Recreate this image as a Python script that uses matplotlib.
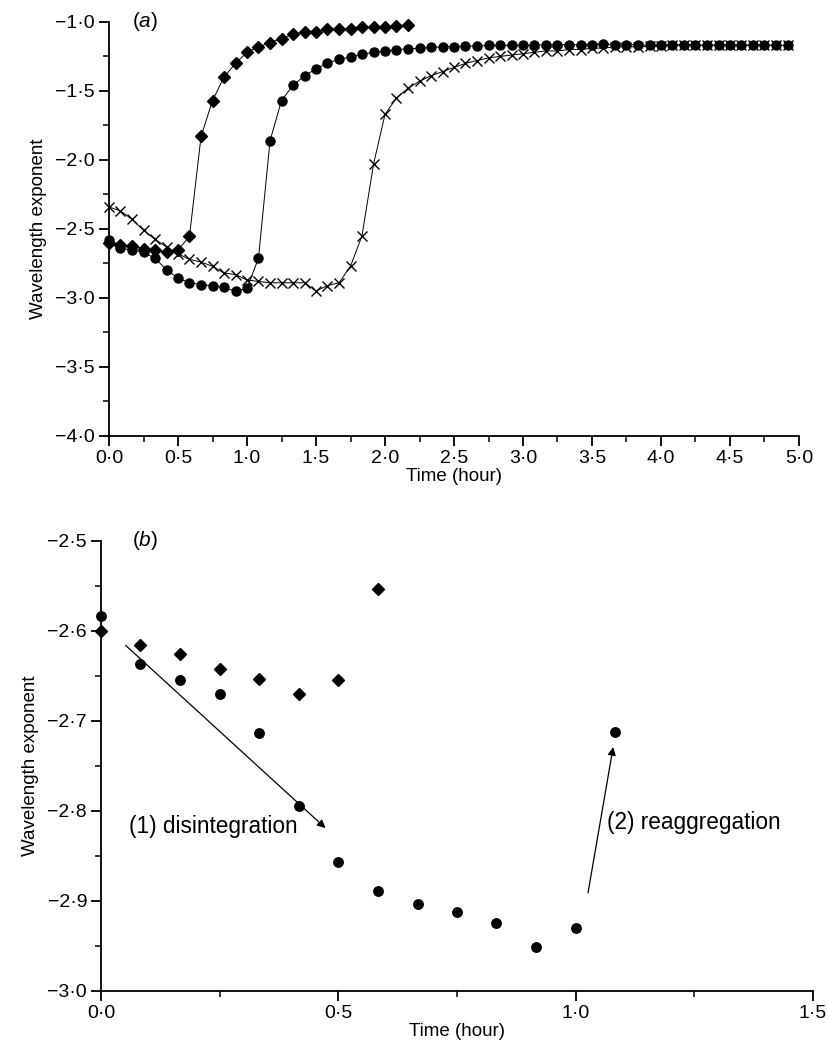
import matplotlib
matplotlib.use("Agg")
import matplotlib.pyplot as plt
from matplotlib.ticker import MultipleLocator, FuncFormatter

plt.rcParams['font.family'] = ['Liberation Sans', 'DejaVu Sans']
plt.rcParams['mathtext.fontset'] = 'custom'
plt.rcParams['mathtext.rm'] = 'Liberation Sans'
plt.rcParams['mathtext.it'] = 'Liberation Sans:italic'
plt.rcParams['font.size'] = 13

# ---- panel (a): time (hour) every 5 min ----
t_diamond = [0.0, 0.083, 0.167, 0.25, 0.333, 0.417, 0.5, 0.583, 0.667, 0.75,
             0.833, 0.917, 1.0, 1.083, 1.167, 1.25, 1.333, 1.417, 1.5, 1.583,
             1.667, 1.75, 1.833, 1.917, 2.0, 2.083, 2.167]
v_diamond = [-2.60, -2.616, -2.626, -2.642, -2.653, -2.67, -2.654, -2.553, -1.83, -1.57,
             -1.40, -1.30, -1.22, -1.18, -1.15, -1.12, -1.09, -1.07, -1.07, -1.05,
             -1.05, -1.05, -1.04, -1.04, -1.04, -1.03, -1.02]

t_circle = [0.0, 0.083, 0.167, 0.25, 0.333, 0.417, 0.5, 0.583, 0.667, 0.75,
            0.833, 0.917, 1.0, 1.083, 1.167, 1.25, 1.333, 1.417, 1.5, 1.583,
            1.667, 1.75, 1.833, 1.917, 2.0, 2.083, 2.167, 2.25, 2.333, 2.417,
            2.5, 2.583, 2.667, 2.75, 2.833, 2.917, 3.0, 3.083, 3.167, 3.25,
            3.333, 3.417, 3.5, 3.583, 3.667, 3.75, 3.833, 3.917, 4.0, 4.083,
            4.167, 4.25, 4.333, 4.417, 4.5, 4.583, 4.667, 4.75, 4.833, 4.917]
v_circle = [-2.583, -2.637, -2.655, -2.67, -2.713, -2.795, -2.857, -2.889, -2.903, -2.912,
            -2.924, -2.951, -2.93, -2.712, -1.86, -1.57, -1.46, -1.39, -1.34, -1.30,
            -1.27, -1.255, -1.234, -1.22, -1.21, -1.20, -1.195, -1.19, -1.185, -1.18,
            -1.18, -1.175, -1.175, -1.17, -1.17, -1.17, -1.17, -1.17, -1.165, -1.165,
            -1.165, -1.165, -1.165, -1.16, -1.165, -1.165, -1.165, -1.17, -1.165, -1.165,
            -1.165, -1.165, -1.17, -1.165, -1.165, -1.17, -1.165, -1.17, -1.17, -1.17]

t_cross = t_circle
v_cross = [-2.34, -2.37, -2.43, -2.51, -2.575, -2.63, -2.68, -2.72, -2.74, -2.77,
           -2.82, -2.83, -2.87, -2.88, -2.89, -2.89, -2.89, -2.89, -2.95, -2.91,
           -2.89, -2.77, -2.55, -2.03, -1.67, -1.55, -1.48, -1.43, -1.39, -1.36,
           -1.33, -1.30, -1.28, -1.26, -1.25, -1.24, -1.23, -1.22, -1.21, -1.21,
           -1.20, -1.20, -1.19, -1.19, -1.18, -1.18, -1.18, -1.175, -1.175, -1.17,
           -1.17, -1.17, -1.17, -1.17, -1.17, -1.17, -1.17, -1.165, -1.17, -1.17]

# ---- panel (b): first 1.1 h ----
tb_circle = t_circle[:14]
vb_circle = v_circle[:14]
tb_diamond = t_diamond[:8]
vb_diamond = v_diamond[:8]


def fmt(v, pos):
    return '{:.1f}'.format(v).replace('-', '\u2212').replace('.', '\u00b7')


def style_axes(ax):
    for side in ('top', 'right'):
        ax.spines[side].set_visible(False)
    for side in ('left', 'bottom'):
        ax.spines[side].set_linewidth(1.3)
    ax.tick_params(which='major', direction='out', length=7, width=1.3, labelsize=14, pad=3)
    ax.tick_params(which='minor', direction='out', length=4, width=1.1)
    ax.xaxis.set_major_formatter(FuncFormatter(fmt))
    ax.yaxis.set_major_formatter(FuncFormatter(fmt))
    ax.set_xlabel('Time (hour)', fontsize=13.5, labelpad=1)
    ax.set_ylabel('Wavelength exponent', fontsize=13.5, labelpad=6)


fig = plt.figure(figsize=(8.29, 10.45), dpi=100)

ax1 = fig.add_axes([0.1315, 0.5828, 0.8323, 0.3962])
ax1.plot(t_cross, v_cross, color='black', lw=0.7, marker='x', ms=7.5, mew=1.0, clip_on=False)
ax1.plot(t_circle, v_circle, color='black', lw=0.7, marker='o', ms=6.5, clip_on=False)
ax1.plot(t_diamond, v_diamond, color='black', lw=0.7, marker='D', ms=6.5, clip_on=False)
ax1.set_xlim(0, 5)
ax1.set_ylim(-4, -1)
ax1.xaxis.set_major_locator(MultipleLocator(0.5))
ax1.xaxis.set_minor_locator(MultipleLocator(0.25))
ax1.yaxis.set_major_locator(MultipleLocator(0.5))
ax1.yaxis.set_minor_locator(MultipleLocator(0.25))
style_axes(ax1)
ax1.text(0.17, -1.0, '($\\mathit{a}$)', fontsize=15, va='center', ha='left')

ax2 = fig.add_axes([0.1218, 0.0517, 0.8589, 0.4306])
ax2.plot(tb_circle, vb_circle, ls='none', color='black', marker='o', ms=6.8, clip_on=False)
ax2.plot(tb_diamond, vb_diamond, ls='none', color='black', marker='D', ms=6.5, clip_on=False)
ax2.set_xlim(0, 1.5)
ax2.set_ylim(-3.0, -2.5)
ax2.xaxis.set_major_locator(MultipleLocator(0.5))
ax2.xaxis.set_minor_locator(MultipleLocator(0.25))
ax2.yaxis.set_major_locator(MultipleLocator(0.1))
ax2.yaxis.set_minor_locator(MultipleLocator(0.05))
style_axes(ax2)
ax2.text(0.066, -2.5, '($\\mathit{b}$)', fontsize=15, va='center', ha='left')

arrow = dict(arrowstyle='-|>', color='black', lw=0.9, mutation_scale=12, shrinkA=0, shrinkB=0)
ax2.annotate('', xy=(0.473, -2.819), xytext=(0.052, -2.616), arrowprops=arrow)
ax2.annotate('', xy=(1.079, -2.729), xytext=(1.026, -2.891), arrowprops=arrow)
ax2.text(0.06, -2.817, '(1) disintegration', fontsize=16.3, va='center', ha='left')
ax2.text(1.065, -2.813, '(2) reaggregation', fontsize=16.3, va='center', ha='left')

fig.savefig('out.png', dpi=100)
